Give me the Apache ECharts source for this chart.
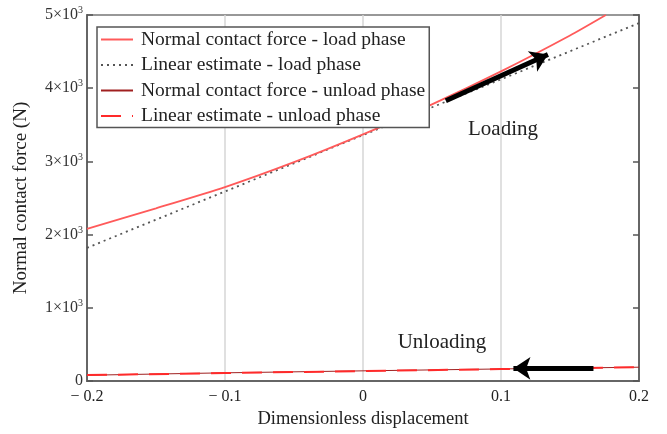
<!DOCTYPE html>
<html>
<head>
<meta charset="utf-8">
<script src="https://cdn.jsdelivr.net/npm/echarts@6/dist/echarts.min.js"></script>
<style>html,body{margin:0;padding:0;background:#fff}#c{width:667px;height:434px}</style>
</head>
<body>
<div id="c"></div>
<script>
// ---- data ----
const loadX = [-0.2, -0.15, -0.1, -0.05, 0, 0.05, 0.1, 0.15, 0.176];
const loadForce = [2080, 2360, 2650, 2990, 3370, 3780, 4230, 4720, 5000];
const loadEstX = [-0.2, -0.1, 0, 0.1, 0.2];
const loadEstimate = [1820, 2590, 3360, 4120, 4890];
const unloadX = [-0.2, -0.1, 0, 0.1, 0.2];
const unloadForce = [80, 113, 140, 166, 190];
const unloadEstimate = [82, 110, 137, 164, 191];
const loadArrow = [[0.06, 3830], [0.134, 4460]];
const unloadArrow = [[0.167, 170], [0.109, 174]];
const seriesNames = ['Normal contact force - load phase', 'Linear estimate - load phase',
  'Normal contact force - unload phase', 'Linear estimate - unload phase'];

const pair = (xs, ys) => xs.map((x, i) => [x, ys[i]]);
const SERIF = "'Liberation Serif', 'Times New Roman', serif";
const TXT = '#222';

const chart = echarts.init(document.getElementById('c'), null, {renderer: 'canvas'});
const yAxisBase = {
  type: 'value', min: 0, max: 5000, interval: 1000,
  axisLine: {show: true, onZero: false, lineStyle: {color: '#666', width: 2}},
  axisTick: {show: true, inside: true, length: 6, lineStyle: {color: '#555', width: 1.5}},
  splitLine: {show: false}
};
chart.setOption({
  animation: false,
  backgroundColor: '#fff',
  grid: {left: 87, right: 28, top: 15, bottom: 51, show: true, borderColor: '#777', borderWidth: 1.5},
  legend: {
    orient: 'vertical', left: 97, top: 27,
    data: seriesNames,
    backgroundColor: '#fff', borderColor: '#555', borderWidth: 1.5,
    padding: [2, 4, 1, 3], itemGap: 4.5, itemWidth: 32, itemHeight: 14,
    itemStyle: {opacity: 0},
    textStyle: {fontFamily: SERIF, fontSize: 19.5, color: TXT, lineHeight: 21, padding: [0, 0, 0, 3]},
    z: 10
  },
  xAxis: {
    type: 'value', min: -0.2, max: 0.2, interval: 0.1,
    name: 'Dimensionless displacement', nameLocation: 'middle', nameGap: 26,
    nameTextStyle: {fontFamily: SERIF, fontSize: 18.5, color: TXT},
    axisLine: {show: true, onZero: false, lineStyle: {color: '#666', width: 2}},
    axisTick: {show: false},
    axisLabel: {
      fontFamily: SERIF, fontSize: 16, color: TXT, margin: 8,
      formatter: v => Math.abs(v) < 1e-9 ? '0' : (v < 0 ? '\u2212 ' + Math.abs(v).toFixed(1) : v.toFixed(1))
    },
    splitLine: {show: true, lineStyle: {color: '#d6d6d6', width: 1.5}}
  },
  yAxis: [
    Object.assign({}, yAxisBase, {
      position: 'left',
      name: 'Normal contact force (N)', nameLocation: 'middle', nameGap: 56, nameRotate: 90,
      nameTextStyle: {fontFamily: SERIF, fontSize: 19, color: TXT},
      axisLabel: {
        margin: 4, color: '#333',
        formatter: v => v === 0 ? '{b|0}' : '{b|' + (v / 1000) + '×10}{s|3}',
        rich: {
          b: {fontFamily: SERIF, fontSize: 16, color: '#333'},
          s: {fontFamily: SERIF, fontSize: 10, color: '#333', padding: [0, 0, 9, 0]}
        }
      }
    }),
    Object.assign({}, yAxisBase, {position: 'right', axisLabel: {show: false}})
  ],
  series: [
    {
      name: seriesNames[0], type: 'line', symbol: 'none', smooth: 0.2,
      data: pair(loadX, loadForce),
      lineStyle: {color: '#ff5a5a', width: 1.8}, itemStyle: {color: '#ff5a5a'}, z: 3
    },
    {
      name: seriesNames[1], type: 'line', symbol: 'none',
      data: pair(loadEstX, loadEstimate),
      lineStyle: {color: '#555', width: 1.8, type: [2, 4]}, itemStyle: {color: '#555'}, z: 2
    },
    {
      name: seriesNames[2], type: 'line', symbol: 'none',
      data: pair(unloadX, unloadForce),
      lineStyle: {color: '#a02020', width: 1}, itemStyle: {color: '#a02020'}, z: 2
    },
    {
      name: seriesNames[3], type: 'line', symbol: 'none',
      data: pair(unloadX, unloadEstimate),
      lineStyle: {color: '#ff2a2a', width: 2, type: [20, 11]}, itemStyle: {color: '#ff2a2a'}, z: 3,
      markLine: {
        silent: true, symbol: ['none', 'arrow'], symbolSize: 17,
        lineStyle: {color: '#000', width: 5, type: 'solid'},
        label: {show: false},
        emphasis: {disabled: true},
        data: [
          [{coord: loadArrow[0]}, {coord: loadArrow[1]}],
          [{coord: unloadArrow[0]}, {coord: unloadArrow[1]}]
        ]
      }
    }
  ],
  graphic: [
    {type: 'text', x: 503, y: 129, style: {text: 'Loading', fontFamily: SERIF, fontSize: 21, fill: TXT, align: 'center', verticalAlign: 'middle'}},
    {type: 'text', x: 442, y: 342, style: {text: 'Unloading', fontFamily: SERIF, fontSize: 21, fill: TXT, align: 'center', verticalAlign: 'middle'}}
  ]
});
</script>
</body>
</html>
